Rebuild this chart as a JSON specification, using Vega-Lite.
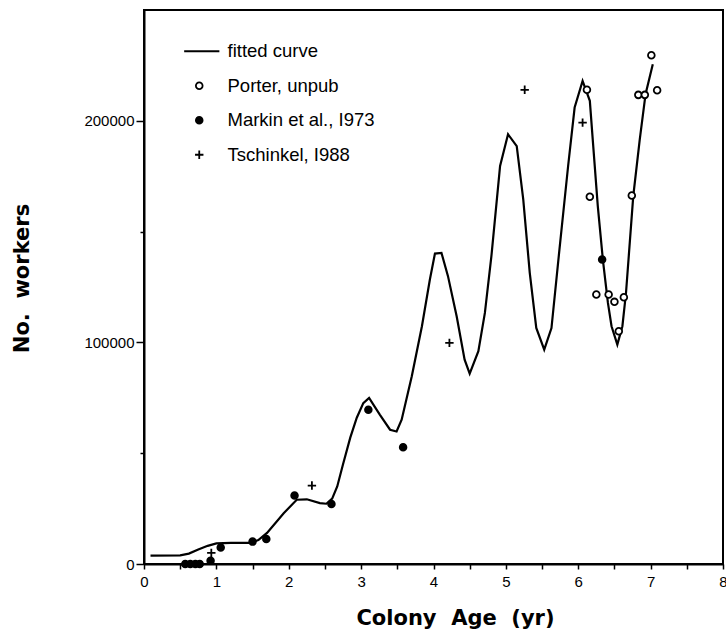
{
  "$schema": "https://vega.github.io/schema/vega-lite/v6.json",
  "width": 579,
  "height": 554,
  "autosize": {"type": "none"},
  "padding": {"left": 144, "top": 10, "right": 3, "bottom": 71},
  "background": "white",
  "config": {
    "view": {"stroke": "black", "strokeWidth": 2},
    "axis": {
      "grid": false,
      "domainColor": "black",
      "domainWidth": 2,
      "tickColor": "black",
      "tickWidth": 1.5,
      "labelFont": "Liberation Sans",
      "labelFontSize": 15,
      "labelColor": "black",
      "labelFlush": false,
      "labelOverlap": false,
      "titleFont": "DejaVu Sans",
      "titleFontWeight": "bold",
      "titleFontSize": 21,
      "titleColor": "black"
    },
    "legend": {
      "orient": "none",
      "legendX": 46,
      "legendY": 32,
      "title": null,
      "padding": 0,
      "labelFont": "Liberation Sans",
      "labelFontSize": 18.5,
      "labelColor": "black",
      "symbolSize": 45,
      "symbolStrokeWidth": 1.8,
      "rowPadding": 15.5,
      "labelOffset": 19
    }
  },
  "datasets": {
    "curve": [
      {"age": 0.09, "workers": 3800},
      {"age": 0.5, "workers": 3900},
      {"age": 0.62, "workers": 4700},
      {"age": 0.75, "workers": 6500},
      {"age": 0.88, "workers": 8200},
      {"age": 1.0, "workers": 9300},
      {"age": 1.2, "workers": 9500},
      {"age": 1.47, "workers": 9500},
      {"age": 1.58, "workers": 10800},
      {"age": 1.7, "workers": 14000},
      {"age": 1.93, "workers": 22900},
      {"age": 2.11, "workers": 29000},
      {"age": 2.25, "workers": 29200},
      {"age": 2.43, "workers": 27500},
      {"age": 2.52, "workers": 27200},
      {"age": 2.6, "workers": 29500},
      {"age": 2.67, "workers": 35000},
      {"age": 2.75, "workers": 45000},
      {"age": 2.85, "workers": 57000},
      {"age": 2.94, "workers": 66000},
      {"age": 3.03, "workers": 72600},
      {"age": 3.11, "workers": 74900},
      {"age": 3.26, "workers": 67300},
      {"age": 3.4, "workers": 60600},
      {"age": 3.49, "workers": 59800},
      {"age": 3.56, "workers": 65100},
      {"age": 3.7, "workers": 84700},
      {"age": 3.84, "workers": 107300},
      {"age": 3.95, "workers": 128400},
      {"age": 4.02, "workers": 140100},
      {"age": 4.11, "workers": 140400},
      {"age": 4.2, "workers": 129900},
      {"age": 4.32, "workers": 111800},
      {"age": 4.43, "workers": 92200},
      {"age": 4.5, "workers": 85900},
      {"age": 4.62, "workers": 96000},
      {"age": 4.71, "workers": 113300},
      {"age": 4.8, "workers": 138900},
      {"age": 4.92, "workers": 179600},
      {"age": 5.03, "workers": 193900},
      {"age": 5.15, "workers": 188600},
      {"age": 5.24, "workers": 164500},
      {"age": 5.33, "workers": 131400},
      {"age": 5.42, "workers": 106500},
      {"age": 5.53, "workers": 96700},
      {"age": 5.63, "workers": 106500},
      {"age": 5.74, "workers": 141900},
      {"age": 5.86, "workers": 179600},
      {"age": 5.95, "workers": 206000},
      {"age": 6.06, "workers": 218000},
      {"age": 6.16, "workers": 209000},
      {"age": 6.2, "workers": 191600},
      {"age": 6.27, "workers": 161500},
      {"age": 6.34, "workers": 137400},
      {"age": 6.41, "workers": 117800},
      {"age": 6.46, "workers": 107300},
      {"age": 6.54, "workers": 99000},
      {"age": 6.61, "workers": 107300},
      {"age": 6.66, "workers": 122400},
      {"age": 6.76, "workers": 166000},
      {"age": 6.85, "workers": 191600},
      {"age": 6.93, "workers": 212000},
      {"age": 7.03, "workers": 225500}
    ],
    "points": [
      {"source": "Markin et al., I973", "age": 0.57, "workers": 0},
      {"source": "Markin et al., I973", "age": 0.64, "workers": 0},
      {"source": "Markin et al., I973", "age": 0.71, "workers": 0},
      {"source": "Markin et al., I973", "age": 0.77, "workers": 0},
      {"source": "Markin et al., I973", "age": 0.92, "workers": 1500},
      {"source": "Markin et al., I973", "age": 1.06, "workers": 7400},
      {"source": "Markin et al., I973", "age": 1.5, "workers": 10100},
      {"source": "Markin et al., I973", "age": 1.69, "workers": 11300},
      {"source": "Markin et al., I973", "age": 2.08, "workers": 30900},
      {"source": "Markin et al., I973", "age": 2.59, "workers": 27100},
      {"source": "Markin et al., I973", "age": 3.1, "workers": 69600},
      {"source": "Markin et al., I973", "age": 3.58, "workers": 52700},
      {"source": "Markin et al., I973", "age": 6.33, "workers": 137400},
      {"source": "Tschinkel, I988", "age": 0.93, "workers": 5000},
      {"source": "Tschinkel, I988", "age": 2.32, "workers": 35400},
      {"source": "Tschinkel, I988", "age": 4.22, "workers": 99800},
      {"source": "Tschinkel, I988", "age": 5.26, "workers": 214000},
      {"source": "Tschinkel, I988", "age": 6.06, "workers": 199200},
      {"source": "Porter, unpub", "age": 6.12, "workers": 214000},
      {"source": "Porter, unpub", "age": 6.16, "workers": 165700},
      {"source": "Porter, unpub", "age": 6.25, "workers": 121600},
      {"source": "Porter, unpub", "age": 6.42, "workers": 121600},
      {"source": "Porter, unpub", "age": 6.5, "workers": 118300},
      {"source": "Porter, unpub", "age": 6.56, "workers": 105000},
      {"source": "Porter, unpub", "age": 6.63, "workers": 120400},
      {"source": "Porter, unpub", "age": 6.74, "workers": 166300},
      {"source": "Porter, unpub", "age": 6.83, "workers": 211700},
      {"source": "Porter, unpub", "age": 6.92, "workers": 211700},
      {"source": "Porter, unpub", "age": 7.01, "workers": 229600},
      {"source": "Porter, unpub", "age": 7.09, "workers": 213800}
    ]
  },
  "encoding": {
    "x": {
      "field": "age",
      "type": "quantitative",
      "scale": {"domain": [0, 8], "nice": false, "zero": false},
      "axis": {
        "title": "Colony\u00a0 Age\u00a0 (yr)",
        "values": [0, 0.5, 1, 1.5, 2, 2.5, 3, 3.5, 4, 4.5, 5, 5.5, 6, 6.5, 7, 7.5, 8],
        "labelExpr": "datum.value % 1 == 0 ? format(datum.value, 'd') : ''",
        "tickSize": 5,
        "labelPadding": 5,
        "titleX": 311,
        "titleY": 60,
        "titleAnchor": "middle",
        "titleAlign": "center",
        "titleBaseline": "alphabetic"
      }
    },
    "y": {
      "field": "workers",
      "type": "quantitative",
      "scale": {"domain": [0, 250000], "nice": false},
      "axis": {
        "title": "No.\u00a0 workers",
        "values": [0, 50000, 100000, 150000, 200000],
        "labelExpr": "datum.value % 100000 == 0 ? format(datum.value, 'd') : ''",
        "tickSize": {"condition": {"test": "datum.value % 100000 != 0", "value": 4}, "value": 8},
        "labelPadding": 2,
        "titleAngle": -90,
        "titleX": -122,
        "titleY": 268,
        "titleAlign": "center",
        "titleBaseline": "middle"
      }
    }
  },
  "layer": [
    {
      "data": {"name": "curve"},
      "mark": {"type": "line", "color": "black", "strokeWidth": 2.2, "interpolate": "linear"}
    },
    {
      "data": {"name": "points"},
      "mark": {"type": "point", "strokeWidth": 1.8, "opacity": 1, "size": 45},
      "encoding": {
        "shape": {
          "field": "source",
          "type": "nominal",
          "scale": {
            "domain": ["fitted curve", "Porter, unpub", "Markin et al., I973", "Tschinkel, I988"],
            "range": ["M-4.5,0L6,0", "circle", "circle", "M-1.25,0L1.25,0M0,-1.25L0,1.25"]
          },
          "legend": {"title": null}
        },
        "fill": {
          "field": "source",
          "type": "nominal",
          "scale": {
            "domain": ["fitted curve", "Porter, unpub", "Markin et al., I973", "Tschinkel, I988"],
            "range": ["transparent", "white", "black", "transparent"]
          },
          "legend": {"title": null}
        },
        "stroke": {
          "field": "source",
          "type": "nominal",
          "scale": {
            "domain": ["fitted curve", "Porter, unpub", "Markin et al., I973", "Tschinkel, I988"],
            "range": ["black", "black", "black", "black"]
          },
          "legend": {"title": null}
        }
      }
    }
  ]
}
